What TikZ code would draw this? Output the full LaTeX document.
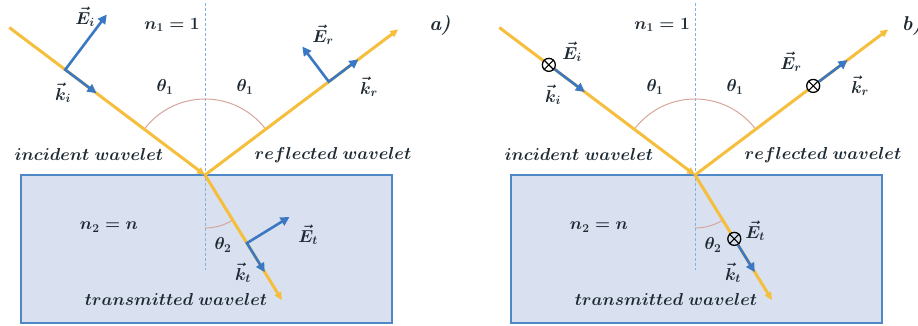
\documentclass[tikz,border=0pt]{standalone}
\usetikzlibrary{arrows.meta,calc}
\definecolor{raycol}{HTML}{F5BE3C}
\definecolor{veccol}{HTML}{3B78C4}
\definecolor{glass}{HTML}{D9E1F0}
\definecolor{glassedge}{HTML}{4F88C6}
\definecolor{normalcol}{HTML}{7FB2E5}
\definecolor{arccol}{HTML}{D7A69C}
\definecolor{inkcol}{HTML}{1E2A33}
\begin{document}
\begin{tikzpicture}[x=1pt,y=1pt,
  font=\fontsize{17}{19}\selectfont\boldmath,
  lbl/.style={inner sep=0pt, text=inkcol},
  rayline/.style={draw=raycol, line width=3pt},
  rayarrow/.style={rayline, -{Triangle[length=8pt,width=7pt]}},
  vecline/.style={draw=veccol, line width=2.6pt},
  vecarrow/.style={vecline, -{Triangle[length=9pt,width=9pt]}},
  vecpair/.style={vecline, {Triangle[length=9pt,width=9pt]}-{Triangle[length=9pt,width=9pt]}},
  glassbox/.style={fill=glass, draw=glassedge, line width=1.3pt},
  normalline/.style={draw=normalcol, line width=0.8pt, dash pattern=on 3pt off 2pt},
  anglearc/.style={draw=arccol, line width=1pt},
  otimesmark/.style={circle, draw=black, line width=1.3pt, minimum size=13pt, inner sep=0pt}
]
\useasboundingbox (0,0) rectangle (918,326);

\foreach \p/\dx in {a/0,b/490}{
\begin{scope}[xshift=\dx]
  \coordinate (O\p) at (205,151);
  \draw[glassbox] (21,3) rectangle (392,151);
  \coordinate (Ntop\p) at (205,323);
  \coordinate (Nbot\p) at (205,56);
  \draw[normalline] (Ntop\p) -- (Nbot\p);
  \draw[anglearc] ($(O\p)+(37:76)$) arc[start angle=37, end angle=143, radius=76];
  \draw[anglearc] ($(O\p)+(-90:53)$) arc[start angle=-90, end angle=-58.4, radius=53];
  \coordinate (S\p) at ($(O\p)+(143:245)$);
  \coordinate (R\p) at ($(O\p)+(37:242)$);
  \coordinate (T\p) at ($(O\p)+(-58.4:147)$);
  \draw[rayarrow] (S\p) -- (O\p);
  \draw[rayarrow] (O\p) -- (R\p);
  \draw[rayarrow] (O\p) -- (T\p);
  \node[lbl] (n1\p) at (172,301) {$n_1 = 1$};
  \node[lbl] (th1l\p) at (165,239) {$\theta_1$};
  \node[lbl] (th1r\p) at (245,239) {$\theta_1$};
  \node[lbl] (inc\p) at (89,171) {$incident\ wavelet$};
  \node[lbl] (ref\p) at (333,171) {$reflected\ wavelet$};
  \node[lbl] (n2\p) at (109,99) {$n_2 = n$};
  \node[lbl] (th2\p) at (223,81) {$\theta_2$};
  \node[lbl] (tra\p) at (176,26) {$transmitted\ wavelet$};
\end{scope}
}

% panel tags
\node[lbl, font=\fontsize{20}{22}\selectfont] (taga) at (440,301) {\textbf{\textit{a)}}};
\node[lbl, font=\fontsize{20}{22}\selectfont] (tagb) at (912,301) {\textbf{\textit{b)}}};

% panel a: in-plane E field
\coordinate (Bia) at ($(Oa)+(143:175)$);
\coordinate (Kia) at ($(Oa)+(143:136)$);
\coordinate (Eia) at ($(Bia)+(53:69)$);
\draw[vecpair] (Eia) -- (Bia) -- (Kia);
\node[lbl] (lEia) at (85,309) {$\vec{E}_i$};
\node[lbl] (lKia) at (63,233) {$\vec{k}_i$};

\coordinate (Bra) at ($(Oa)+(37:155)$);
\coordinate (Kra) at ($(Oa)+(37:192)$);
\coordinate (Era) at ($(Bra)+(127:44)$);
\draw[vecpair] (Era) -- (Bra) -- (Kra);
\node[lbl] (lEra) at (323,291) {$\vec{E}_r$};
\node[lbl] (lKra) at (369,239) {$\vec{k}_r$};

\coordinate (Bta) at ($(Oa)+(-58.4:80)$);
\coordinate (Kta) at ($(Oa)+(-58.4:114)$);
\coordinate (Eta) at ($(Bta)+(31.6:50)$);
\draw[vecpair] (Eta) -- (Bta) -- (Kta);
\node[lbl] (lEta) at (308,91) {$\vec{E}_t$};
\node[lbl] (lKta) at (243,53) {$\vec{k}_t$};

% panel b: E field normal to the plane
\node[otimesmark, fill=white] (Xib) at ($(Ob)+(143:183)$) {};
\draw[black, line width=1.1pt] (Xib.north west) -- (Xib.south east) (Xib.north east) -- (Xib.south west);
\coordinate (Kib) at ($(Ob)+(143:138)$);
\draw[vecarrow] (Xib) -- (Kib);
\node[lbl] (lEib) at (572,274) {$\vec{E}_i$};
\node[lbl] (lKib) at (553,231) {$\vec{k}_i$};

\node[otimesmark, fill=white] (Xrb) at ($(Ob)+(37:148)$) {};
\draw[black, line width=1.1pt] (Xrb.north west) -- (Xrb.south east) (Xrb.north east) -- (Xrb.south west);
\coordinate (Krb) at ($(Ob)+(37:191)$);
\draw[vecarrow] (Xrb) -- (Krb);
\node[lbl] (lErb) at (791,264) {$\vec{E}_r$};
\node[lbl] (lKrb) at (860,240) {$\vec{k}_r$};

\node[otimesmark, fill=glass] (Xtb) at ($(Ob)+(-58.4:75)$) {};
\draw[black, line width=1.1pt] (Xtb.north west) -- (Xtb.south east) (Xtb.north east) -- (Xtb.south west);
\coordinate (Ktb) at ($(Ob)+(-58.4:114)$);
\draw[vecarrow] (Xtb) -- (Ktb);
\node[lbl] (lEtb) at (755,95) {$\vec{E}_t$};
\node[lbl] (lKtb) at (733,53) {$\vec{k}_t$};
\end{tikzpicture}
\end{document}
